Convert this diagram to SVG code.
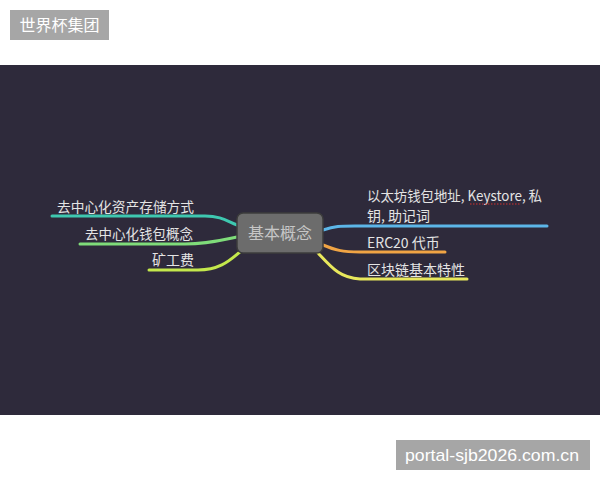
<svg xmlns="http://www.w3.org/2000/svg" width="600" height="480" viewBox="0 0 600 480">
<style>
.lbl{font-family:"Noto Sans CJK SC","Liberation Sans",sans-serif;font-size:14px;fill:#e4e4e4}
.con{fill:none;stroke-width:3;stroke-linecap:round}
</style>
<rect x="0" y="0" width="600" height="480" fill="#ffffff"/>
<rect x="0" y="65" width="600" height="350" fill="#2e2a3b"/>
<g id="tag">
<rect x="10" y="10" width="99" height="30" fill="#a6a6a6"/>
<text x="59.5" y="31" text-anchor="middle" font-family="Noto Sans CJK SC, sans-serif" font-size="16" fill="#ffffff">世界杯集团</text>
</g>
<g id="connectors">
<path class="con" stroke="#3ec8b0" d="M52,216 L205,216 C222,216 228,222 237,225"/>
<path class="con" stroke="#7fdc7a" d="M80,244 L185,244 C210,244 222,240 237,237"/>
<path class="con" stroke="#c4e84c" d="M149,270 L198,270 C222,270 232,258 240,252"/>
<path class="con" stroke="#5cb6e8" d="M323,230 C335,226 340,226 355,226 L547,226"/>
<path class="con" stroke="#f0a444" d="M323,245 C335,250 342,252 360,252 L445,252"/>
<path class="con" stroke="#e8e85c" d="M318,253 C332,268 340,278 360,279 L467,279"/>
</g>
<g id="center">
<rect x="237" y="213" width="86" height="40" rx="6" fill="#6c6c6c" stroke="#3c3c3c" stroke-width="1.5"/>
<text x="280" y="239" text-anchor="middle" font-family="Noto Sans CJK SC, sans-serif" font-size="16" fill="#c6c6c6">基本概念</text>
</g>
<g id="n1"><text class="lbl" x="57" y="212" textLength="137" lengthAdjust="spacingAndGlyphs">去中心化资产存储方式</text></g>
<g id="n2"><text class="lbl" x="85" y="239" textLength="108" lengthAdjust="spacingAndGlyphs">去中心化钱包概念</text></g>
<g id="n3"><text class="lbl" x="152" y="265">矿工费</text></g>
<g id="n4">
<text class="lbl" x="367" y="201" textLength="175" lengthAdjust="spacingAndGlyphs">以太坊钱包地址, Keystore, 私</text>
<text class="lbl" x="367" y="221">钥, 助记词</text>
<line x1="470" y1="204" x2="521" y2="204" stroke="#d03030" stroke-width="1" stroke-dasharray="1.5,1.5"/>
</g>
<g id="n5"><text class="lbl" x="367" y="248">ERC20 代币</text></g>
<g id="n6"><text class="lbl" x="367" y="275">区块链基本特性</text></g>
<g id="watermark">
<rect x="396" y="440" width="194" height="30" fill="#a6a6a6"/>
<text x="405" y="461" font-family="Liberation Sans, sans-serif" font-size="17" fill="#ffffff" textLength="174" lengthAdjust="spacingAndGlyphs">portal-sjb2026.com.cn</text>
</g>
</svg>
